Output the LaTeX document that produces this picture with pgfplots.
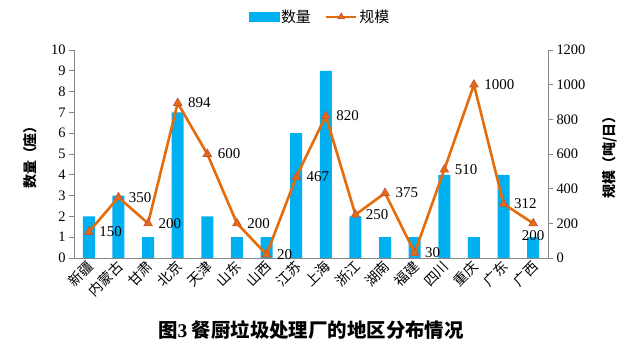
\documentclass[border=0pt]{standalone}
\usepackage{fontspec}
\setmainfont{Liberation Serif}
\newfontfamily\cjk{Noto Sans CJK SC}
\usepackage{pgfplots}
\pgfplotsset{compat=1.18}
\definecolor{barc}{HTML}{00B0F0}
\definecolor{linec}{HTML}{E46C0A}
\definecolor{markc}{HTML}{C0504D}
\definecolor{axc}{HTML}{868686}
\begin{document}
\begin{tikzpicture}
\pgfplotsset{
  common/.style={
    scale only axis, width=474bp, height=208bp,
    xmin=-0.5, xmax=15.5,
    axis line style={axc, line width=0.8bp},
    tick style={axc, line width=0.8bp},
    tick align=outside, major tick length=5bp,
    /pgf/number format/assume math mode=true,
    /pgf/number format/1000 sep={},
    yticklabel={\rmfamily\pgfmathprintnumber[assume math mode=true]{\tick}},
    tick label style={font=\rmfamily\fontsize{14.5}{15}\selectfont},
  }
}
\begin{axis}[common,
  ymin=0, ymax=10, ytick={0,1,...,10},
  axis y line*=left, axis x line*=bottom,
  xtick={0,...,15},
  xticklabels={新疆,内蒙古,甘肃,北京,天津,山东,山西,江苏,上海,浙江,湖南,福建,四川,重庆,广东,广西},
  xticklabel style={font=\cjk\fontsize{14}{15}\selectfont, rotate=45, anchor=east, inner sep=1bp, yshift=-2bp, xshift=2bp},
  x tick style={draw=none},
  ylabel={\cjk\bfseries 数量（座）},
  ylabel style={at={(axis description cs:-0.093,0.5)}, anchor=center, font=\fontsize{14}{15}\selectfont},
  ybar, bar width=12bp,
]
\addplot[fill=barc, draw=none] coordinates {
(0,2) (1,3) (2,1) (3,7) (4,2) (5,1) (6,1) (7,6) (8,9) (9,2) (10,1) (11,1) (12,4) (13,1) (14,4) (15,1)};
\end{axis}
\begin{axis}[common,
  ymin=0, ymax=1200, ytick={0,200,...,1200},
  axis y line*=right, axis x line=none,
  ylabel={\cjk\bfseries 规模（吨/日）},
  ylabel style={at={(axis description cs:1.131,0.5)}, anchor=center, rotate=0, font=\fontsize{14}{15}\selectfont},
  legend style={at={(axis description cs:0.519,1.159)}, anchor=center, draw=none, fill=none,
    legend columns=2, font=\cjk\fontsize{15}{16}\selectfont,
    /tikz/every even column/.append style={column sep=12bp}},
  legend cell align=left,
]
\addlegendimage{legend image code/.code={\fill[barc] (0bp,-4.5bp) rectangle (30bp,4.5bp);}}
\addlegendentry{数量}
\addplot[linec, line width=2.6bp, mark=triangle*, mark size=5bp,
  mark options={fill=linec, draw=markc, line width=0.6bp},
  legend image code/.code={\draw[linec, line width=2.6bp] (0bp,0bp) -- (30bp,0bp); \draw[draw=markc, fill=linec, line width=0.6bp] plot[mark=triangle*, mark size=4bp] coordinates {(15bp,0bp)};}]
coordinates {
(0,150) (1,350) (2,200) (3,894) (4,600) (5,200) (6,20) (7,467) (8,820) (9,250) (10,375) (11,30) (12,510) (13,1000) (14,312) (15,200)};
\addlegendentry{规模}
\addplot[draw=none, mark=none, nodes near coords, point meta=explicit symbolic,
  nodes near coords style={anchor=west, xshift=7bp, font=\rmfamily\fontsize{15}{16}\selectfont, text=black}]
coordinates {
(0,150)[150] (1,350)[350] (2,200)[200] (3,894)[894] (4,600)[600] (5,200)[200] (6,20)[20] (7,467)[467] (8,820)[820] (9,250)[250] (10,375)[375] (11,30)[30] (12,510)[510] (13,1000)[1000] (14,312)[312]};
\addplot[draw=none, mark=none, nodes near coords, point meta=explicit symbolic,
  nodes near coords style={anchor=north, yshift=-4bp, font=\rmfamily\fontsize{15}{16}\selectfont, text=black}]
coordinates {(15,200)[200]};
\end{axis}
\node[font=\cjk\bfseries\fontsize{19.5}{21}\selectfont] at (237bp,-72bp) {图{\rmfamily\bfseries 3} 餐厨垃圾处理厂的地区分布情况};
\path[use as bounding box] (-74bp,-93bp) rectangle (559bp,258bp);
\end{tikzpicture}
\end{document}
